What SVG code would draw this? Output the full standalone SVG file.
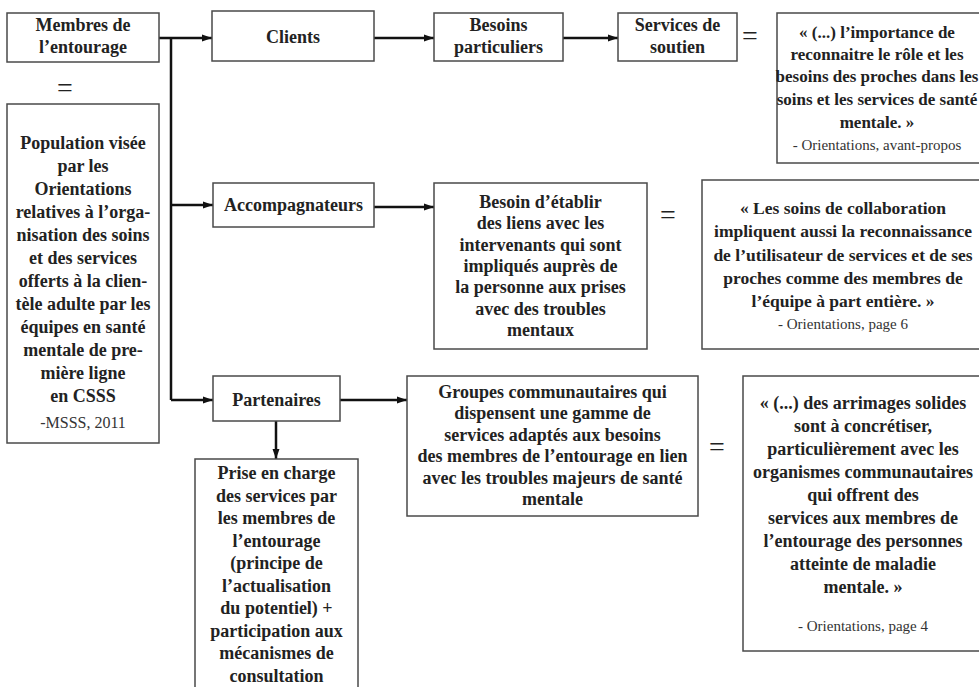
<svg xmlns="http://www.w3.org/2000/svg" width="979" height="687" viewBox="0 0 979 687">
<defs>
<marker id="ah" markerUnits="userSpaceOnUse" markerWidth="10" markerHeight="8" refX="10" refY="4" orient="auto">
<path d="M0,0.5 L10,4 L0,7.5 Z" fill="#111"/>
</marker>
<style>
.box{fill:#fff;stroke:#4a4a4a;stroke-width:1.5}
.t{font-family:"Liberation Serif","Times New Roman",serif;font-size:18px;font-weight:bold;fill:#222;text-anchor:middle}
.q1{font-size:17px}
.q2{font-size:17.5px}
.c{font-family:"Liberation Serif","Times New Roman",serif;font-size:15px;fill:#333;text-anchor:middle}
.eq{font-family:"Liberation Serif","Times New Roman",serif;font-size:28px;fill:#222;text-anchor:middle}
.ln{fill:none;stroke:#111;stroke-width:2.5}
</style>
</defs>
<rect width="979" height="687" fill="#fff"/>

<g id="connectors">
<path class="ln" d="M159,38 H212" marker-end="url(#ah)"/>
<path class="ln" d="M171,38 V400"/>
<path class="ln" d="M171,205 H213" marker-end="url(#ah)"/>
<path class="ln" d="M171,400 H213" marker-end="url(#ah)"/>
<path class="ln" d="M374,38 H434" marker-end="url(#ah)"/>
<path class="ln" d="M563,38 H618" marker-end="url(#ah)"/>
<path class="ln" d="M374,207 H434" marker-end="url(#ah)"/>
<path class="ln" d="M340,400 H407" marker-end="url(#ah)"/>
<path class="ln" d="M276,421 V459" marker-end="url(#ah)"/>
</g>

<g id="equals">
<text class="eq" x="65" y="97">=</text>
<text class="eq" x="750" y="45">=</text>
<text class="eq" x="668" y="224">=</text>
<text class="eq" x="717" y="456">=</text>
</g>

<g id="membres">
<rect class="box" x="7" y="13" width="152" height="49"/>
<text class="t" x="83" y="31">Membres de</text>
<text class="t" x="83" y="53">l’entourage</text>
</g>

<g id="population">
<rect class="box" x="7" y="104" width="152" height="339"/>
<text class="t" x="83" y="149">Population visée</text>
<text class="t" x="83" y="172">par les</text>
<text class="t" x="83" y="195">Orientations</text>
<text class="t" x="83" y="218">relatives à l’orga-</text>
<text class="t" x="83" y="241">nisation des soins</text>
<text class="t" x="83" y="264">et des services</text>
<text class="t" x="83" y="287">offerts à la clien-</text>
<text class="t" x="83" y="310">tèle adulte par les</text>
<text class="t" x="83" y="333">équipes en santé</text>
<text class="t" x="83" y="356">mentale de pre-</text>
<text class="t" x="83" y="379">mière ligne</text>
<text class="t" x="83" y="402">en CSSS</text>
<text class="c" x="83" y="428" style="font-size:16px">-MSSS, 2011</text>
</g>

<g id="clients">
<rect class="box" x="212" y="11" width="162" height="50"/>
<text class="t" x="293" y="43">Clients</text>
</g>

<g id="besoins">
<rect class="box" x="434" y="13" width="129" height="48"/>
<text class="t" x="498.5" y="31">Besoins</text>
<text class="t" x="498.5" y="53">particuliers</text>
</g>

<g id="services">
<rect class="box" x="618" y="13" width="119" height="48"/>
<text class="t" x="677.5" y="31">Services de</text>
<text class="t" x="677.5" y="53">soutien</text>
</g>

<g id="quote1">
<rect class="box" x="777" y="13" width="206" height="150"/>
<text class="t q1" x="877" y="38">« (...) l’importance de</text>
<text class="t q1" x="877" y="60">reconnaitre le rôle et les</text>
<text class="t q1" x="877" y="82">besoins des proches dans les</text>
<text class="t q1" x="877" y="105">soins et les services de santé</text>
<text class="t q1" x="877" y="128">mentale. »</text>
<text class="c" x="877" y="150">- Orientations, avant-propos</text>
</g>

<g id="accompagnateurs">
<rect class="box" x="213" y="183" width="161" height="44"/>
<text class="t" x="293.5" y="211">Accompagnateurs</text>
</g>

<g id="besoin-liens">
<rect class="box" x="434" y="183" width="213" height="166"/>
<text class="t" x="540.5" y="208">Besoin d’établir</text>
<text class="t" x="540.5" y="229.3">des liens avec les</text>
<text class="t" x="540.5" y="250.6">intervenants qui sont</text>
<text class="t" x="540.5" y="272">impliqués auprès de</text>
<text class="t" x="540.5" y="293.3">la personne aux prises</text>
<text class="t" x="540.5" y="314.6">avec des troubles</text>
<text class="t" x="540.5" y="336">mentaux</text>
</g>

<g id="quote2">
<rect class="box" x="702" y="180" width="312" height="169"/>
<text class="t q2" x="843" y="214">« Les soins de collaboration</text>
<text class="t q2" x="843" y="237.3">impliquent aussi la reconnaissance</text>
<text class="t q2" x="843" y="260.6">de l’utilisateur de services et de ses</text>
<text class="t q2" x="843" y="284">proches comme des membres de</text>
<text class="t q2" x="843" y="307.3">l’équipe à part entière. »</text>
<text class="c" x="843" y="329">- Orientations, page 6</text>
</g>

<g id="partenaires">
<rect class="box" x="213" y="376" width="127" height="45"/>
<text class="t" x="276.5" y="406">Partenaires</text>
</g>

<g id="groupes">
<rect class="box" x="407" y="376" width="291" height="140"/>
<text class="t" x="552.5" y="398">Groupes communautaires qui</text>
<text class="t" x="552.5" y="419.4">dispensent une gamme de</text>
<text class="t" x="552.5" y="440.8">services adaptés aux besoins</text>
<text class="t" x="552.5" y="462.2">des membres de l’entourage en lien</text>
<text class="t" x="552.5" y="483.6">avec les troubles majeurs de santé</text>
<text class="t" x="552.5" y="505">mentale</text>
</g>

<g id="quote3">
<rect class="box" x="743" y="376" width="240" height="275"/>
<text class="t" x="863" y="409">« (...) des arrimages solides</text>
<text class="t" x="863" y="432">sont à concrétiser,</text>
<text class="t" x="863" y="455">particulièrement avec les</text>
<text class="t" x="863" y="478">organismes communautaires</text>
<text class="t" x="863" y="501">qui offrent des</text>
<text class="t" x="863" y="524">services aux membres de</text>
<text class="t" x="863" y="547">l’entourage des personnes</text>
<text class="t" x="863" y="570">atteinte de maladie</text>
<text class="t" x="863" y="593">mentale. »</text>
<text class="c" x="863" y="631">- Orientations, page 4</text>
</g>

<g id="prise">
<rect class="box" x="195" y="459" width="163" height="240"/>
<text class="t" x="276.5" y="479">Prise en charge</text>
<text class="t" x="276.5" y="501.5">des services par</text>
<text class="t" x="276.5" y="524">les membres de</text>
<text class="t" x="276.5" y="546.6">l’entourage</text>
<text class="t" x="276.5" y="569.2">(principe de</text>
<text class="t" x="276.5" y="591.8">l’actualisation</text>
<text class="t" x="276.5" y="614.3">du potentiel) +</text>
<text class="t" x="276.5" y="636.9">participation aux</text>
<text class="t" x="276.5" y="659.4">mécanismes de</text>
<text class="t" x="276.5" y="682">consultation</text>
</g>
</svg>
